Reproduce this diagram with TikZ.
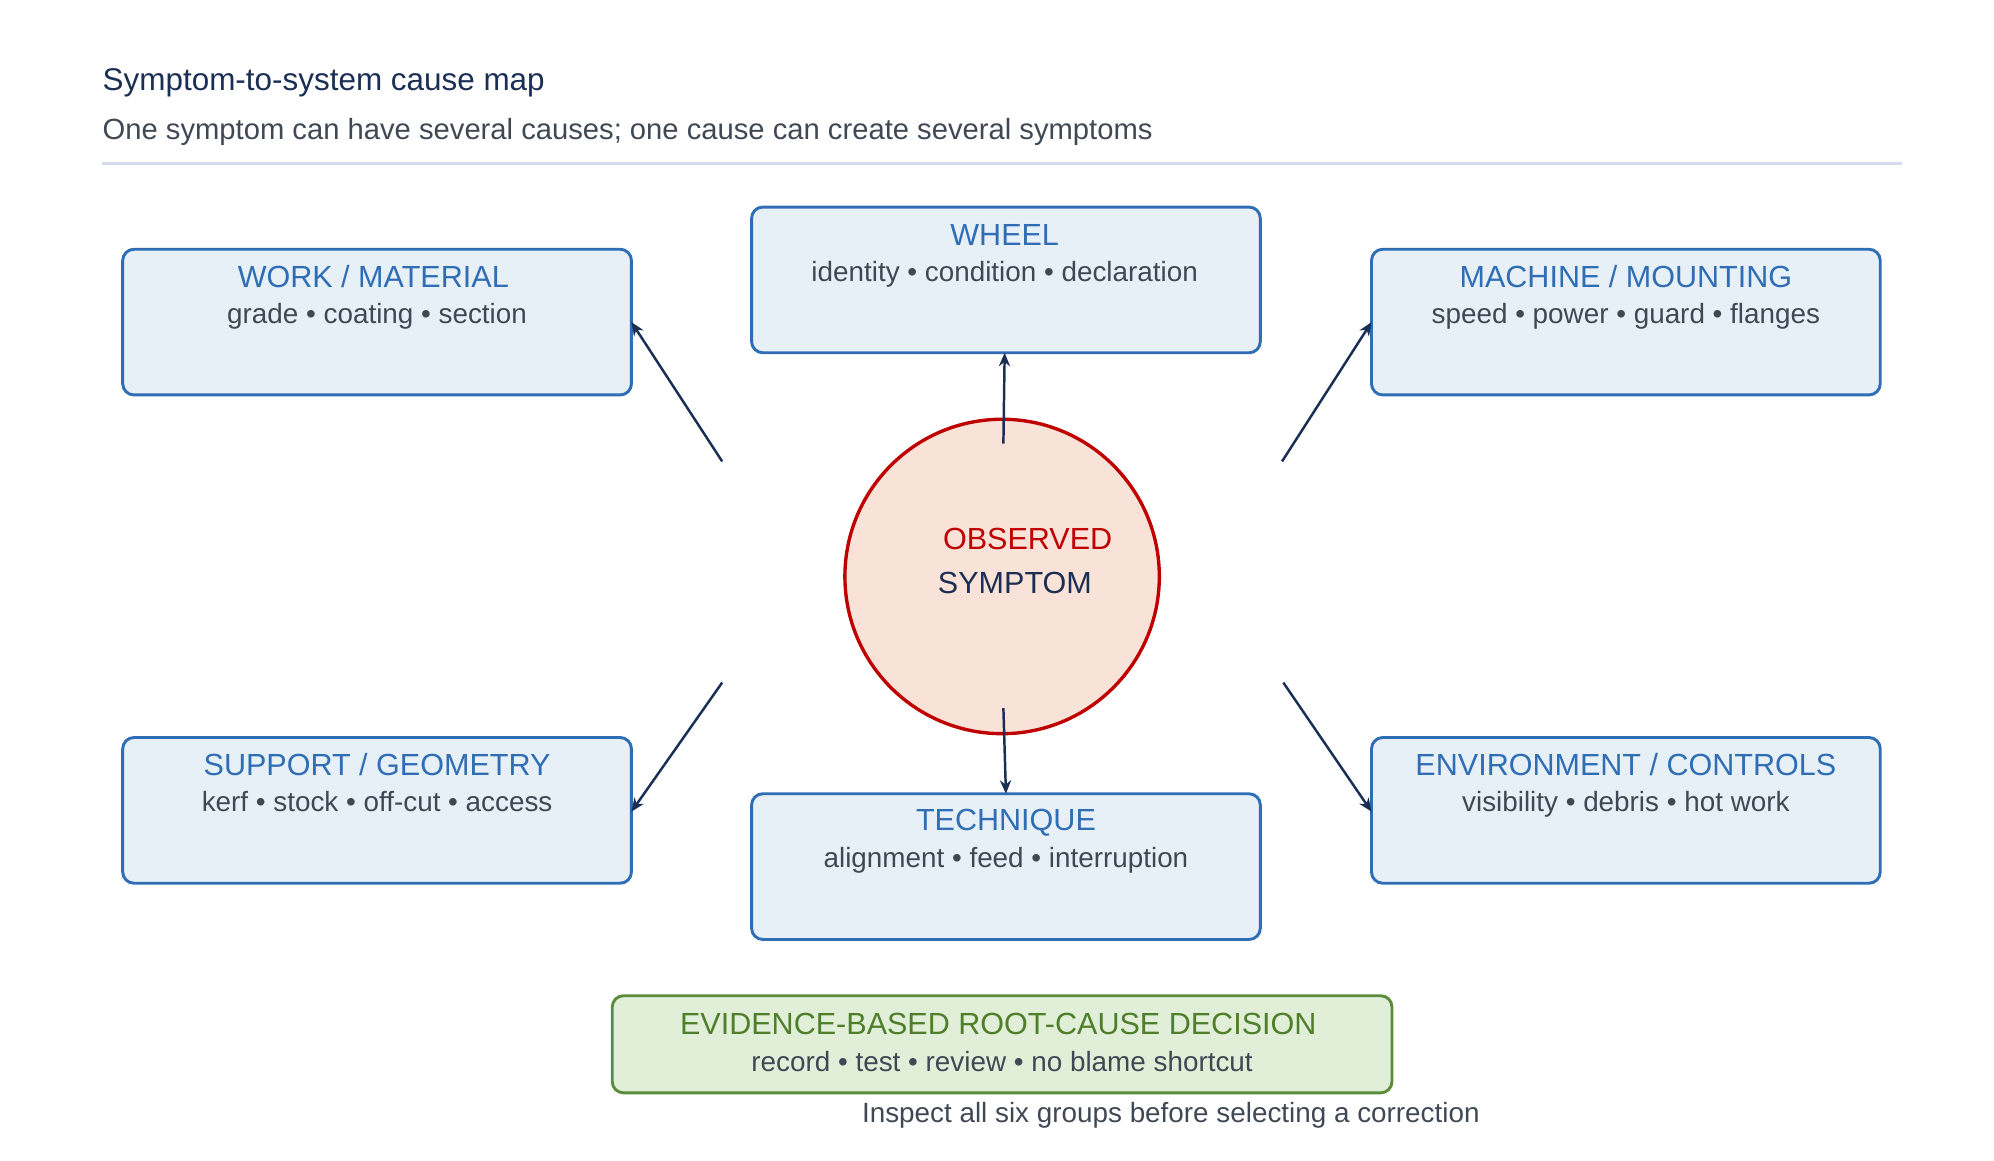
\documentclass[tikz,border=0pt]{standalone}
\usepackage{fontspec}
\setmainfont{Liberation Sans}
\usetikzlibrary{arrows.meta}
\definecolor{bxfill}{HTML}{E7EFF7}
\definecolor{bxdraw}{HTML}{2F6EB5}
\definecolor{bxtitle}{HTML}{2F6EB5}
\definecolor{bodytxt}{HTML}{404854}
\definecolor{navy}{HTML}{1B2F55}
\definecolor{cfill}{HTML}{F9E2D7}
\definecolor{cdraw}{HTML}{C00000}
\definecolor{gfill}{HTML}{E1EFD9}
\definecolor{gdraw}{HTML}{5B8C3B}
\definecolor{gtxt}{HTML}{4F7F2A}
\definecolor{rulec}{HTML}{D5DAF0}
\begin{document}
\begin{tikzpicture}[x=0.02cm,y=-0.02cm,
  box/.style={draw=bxdraw,fill=bxfill,line width=1.3pt,rounded corners=5pt,minimum width=398*0.02cm,minimum height=114*0.02cm,inner sep=0},
  btitle/.style={text=bxtitle,font=\fontsize{13.6}{16}\selectfont,anchor=base},
  bbody/.style={text=bodytxt,font=\fontsize{12.4}{15}\selectfont,anchor=base},
  arr/.style={draw=navy,line width=1.1pt,-{Stealth[length=6pt,width=5pt]}}]
\useasboundingbox (0,0) rectangle (1560,908);
\node[anchor=base west,text=navy,font=\fontsize{14}{16}\selectfont,inner sep=0] (title) at (80,71) {Symptom-to-system cause map};
\node[anchor=base west,text=bodytxt,font=\fontsize{13}{16}\selectfont,inner sep=0] (sub) at (80,109) {One symptom can have several causes; one cause can create several symptoms};
\draw[rulec,line width=1pt] (80,128) -- (1488,128);
% boxes
\node[box] (work) at (295,252) {};
\node[box] (wheel) at (787,219) {};
\node[box] (mach) at (1272,252) {};
\node[box] (supp) at (295,634) {};
\node[box] (tech) at (787,678) {};
\node[box] (env) at (1272,634) {};
\node[btitle] (workt) at (292,225) {WORK / MATERIAL};
\node[bbody] (workb) at (295,253) {grade • coating • section};
\node[btitle] (wheelt) at (786,192) {WHEEL};
\node[bbody] (wheelb) at (786,220) {identity • condition • declaration};
\node[btitle] (macht) at (1272,225) {MACHINE / MOUNTING};
\node[bbody] (machb) at (1272,253) {speed • power • guard • flanges};
\node[btitle] (suppt) at (295,607) {SUPPORT / GEOMETRY};
\node[bbody] (suppb) at (295,635) {kerf • stock • off-cut • access};
\node[btitle] (techt) at (787,650) {TECHNIQUE};
\node[bbody] (techb) at (787,679) {alignment • feed • interruption};
\node[btitle] (envt) at (1272,607) {ENVIRONMENT / CONTROLS};
\node[bbody] (envb) at (1272,635) {visibility • debris • hot work};
% circle
\node[circle,draw=cdraw,fill=cfill,line width=1.5pt,minimum size=246*0.02cm,inner sep=0] (sym) at (784,451) {};
\node[anchor=base,text=cdraw,font=\fontsize{13.6}{16}\selectfont] (obs) at (804,430) {OBSERVED};
\node[anchor=base,text=navy,font=\fontsize{13.6}{16}\selectfont] (symt) at (794,464) {SYMPTOM};
% arrow coordinates
\coordinate (a1) at (565,361); \coordinate (e1) at (494,252);
\coordinate (a2) at (785,347); \coordinate (e2) at (786,276);
\coordinate (a3) at (1003,361); \coordinate (e3) at (1073,252);
\coordinate (a4) at (565,534); \coordinate (e4) at (494,635);
\coordinate (a5) at (785,554); \coordinate (e5) at (787,621);
\coordinate (a6) at (1004,534); \coordinate (e6) at (1073,635);
\foreach \i in {1,...,6} \draw[arr] (a\i) -- (e\i);
% evidence
\node[draw=gdraw,fill=gfill,line width=1.3pt,rounded corners=5pt,minimum width=610*0.02cm,minimum height=76*0.02cm,inner sep=0] (evid) at (784,817) {};
\node[anchor=base,text=gtxt,font=\fontsize{13.6}{16}\selectfont] (evt) at (781,809) {EVIDENCE-BASED ROOT-CAUSE DECISION};
\node[anchor=base,text=bodytxt,font=\fontsize{12.4}{15}\selectfont] (evb) at (784,838) {record • test • review • no blame shortcut};
\node[anchor=base,text=bodytxt,font=\fontsize{12.4}{15}\selectfont] (foot) at (916,878) {Inspect all six groups before selecting a correction};
\end{tikzpicture}
\end{document}
